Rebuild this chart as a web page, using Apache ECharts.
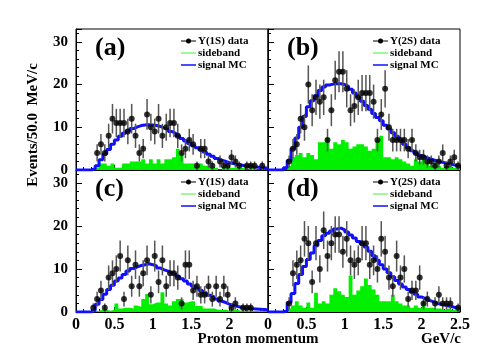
<!DOCTYPE html>
<html>
<head>
<meta charset="utf-8">
<script src="https://cdn.jsdelivr.net/npm/echarts@6/dist/echarts.min.js"></script>
<style>
  html, body { margin: 0; padding: 0; background: #fff; }
  #chart { width: 498px; height: 360px; }
</style>
</head>
<body>
<div id="chart"></div>
<script>
// 50 bins of 50 MeV/c from 0 to 2.5 GeV/c
var binWidth = 0.05;

// (a) Y(1S) data
var dataA = [0,0,0,0,0, 4,6,4,8,12, 11,11,11,9,12, 8,4,5,13,10, 9,12,8,10,11, 11,8,4,5,7, 6,1,5,5,2, 1,0,2,1,1, 3,2,1,0,1, 1,1,0,1,0];
var sideA = [0,0,0,0,0, 0.5,1.5,1.5,1.0,1.5, 0.5,0.5,1.5,1.5,2.0, 2.0,2.0,2.5,1.5,2.5, 1.5,2.5,1.5,2.5,2.5, 3.0,5.0,4.0,1.5,1.5, 1.5,1.0,1.5,1.0,1.0, 0.5,0.5,0,0.5,0.5, 0.5,0.5,0.5,0.5,0, 0.5,0.5,0,0,0];
var mcA = [0,0,0,0,0.3, 1.0,2.4,3.7,4.8,6.0, 7.0,7.9,8.6,9.2,9.7, 10.1,10.4,10.55,10.6,10.55, 10.4,10.2,9.8,9.5,9.0, 8.6,8.0,7.4,6.8,6.2, 5.7,5.2,4.7,4.2,3.7, 3.2,2.7,2.3,2.0,1.7, 1.5,1.3,1.15,1.0,0.9, 0.8,0.7,0.6,0.5,0.4];

// (b) Y(2S) data
var dataB = [0,0,0,0,0, 2,5,6,12,10, 20,14,17,16,17, 7,14,21,23,23, 19,14,15,17,18, 18,18,16,7,13, 19,10,7,7,7, 7,5,7,4,3, 3,2,2,1,2, 4,1,2,3,1];
var sideB = [0,0,0,0,0, 1.0,3.0,3.5,4.0,3.0, 4.0,3.5,2.5,6.5,6.5, 7.5,5.0,6.5,6.0,7.0, 6.5,5.0,5.5,6.0,6.0, 5.5,4.5,5.0,7.0,8.0, 3.0,3.0,2.5,3.0,2.5, 2.0,1.5,1.0,2.5,2.0, 2.5,1.5,1.0,1.5,1.0, 0.5,1.0,1.0,0.5,0.5];
var mcB = [0,0,0,0,0.5, 2.2,5.0,7.5,10.0,12.5, 14.8,16.2,17.4,18.6,19.4, 19.9,20.1,20.2,20.2,20.0, 19.6,18.9,18.0,17.1,16.1, 15.1,14.2,13.2,12.3,11.5, 10.5,9.6,8.7,7.9,7.0, 6.0,5.2,4.5,3.9,3.4, 3.0,2.7,2.4,2.1,1.9, 1.7,1.5,1.3,1.1,0.9];

// (c) Y(1S) data
var dataC = [0,0,0,0,1, 3,5,1,8,9, 10,13,3,12,6, 11,6,9,12,4, 13,7,12,6,9, 9,8,2,11,11, 5,6,4,4,6, 3,6,3,6,4, 1,2,0,1,1, 1,0,0,0,0];
var sideC = [0,0,0,0,0, 0.3,0.5,0.5,0.3,0.5, 2.0,0.8,1.0,1.0,0.8, 1.5,1.2,3.0,4.2,1.8, 2.2,2.2,4.6,2.0,1.5, 2.5,3.0,3.0,2.2,2.5, 2.5,1.4,1.4,0.8,0.8, 0.8,0.5,0.5,0.5,0.3, 0.5,0.5,0.3,0.3,0.3, 0.3,0,0.3,0,0];
var mcC = [0,0,0,0,0.4, 1.8,2.9,4.1,5.2,6.2, 7.2,7.9,8.7,9.5,10.1, 10.5,10.8,11.0,11.2,11.0, 10.7,10.2,9.8,9.5,9.1, 8.8,8.3,7.7,7.2,6.5, 6.0,5.5,5.0,4.5,3.9, 3.5,3.0,2.5,2.2,1.8, 1.5,1.3,1.1,0.9,0.8, 0.75,0.7,0.65,0.6,0.55];

// (d) Y(2S) data
var dataD = [0,0,0,0,0, 2,9,11,12,17, 16,7,16,10,19, 13,16,18,18,14, 17,12,11,12,16, 16,11,12,10,17, 14,8,6,13,8, 10,3,5,5,8, 2,3,0,2,4, 2,2,2,0,1];
var sideD = [0,0,0,0,0, 0.8,1.5,2.5,1.5,1.0, 2.2,1.0,4.5,2.0,2.5, 2.0,4.0,5.5,4.8,4.0, 3.5,8.5,4.0,5.0,6.0, 7.8,6.3,5.2,4.0,2.5, 2.5,2.5,4.0,2.5,2.0, 1.5,1.5,1.0,1.5,1.0, 2.2,1.0,1.0,0.8,0.8, 0.5,0.8,0.5,0.5,0.3];
var mcD = [0,0,0,0,0.3, 2.2,4.3,6.6,8.7,10.6, 12.2,13.7,15.4,16.6,17.7, 18.3,18.8,19.3,19.5,19.1, 18.6,17.9,17.2,16.4,15.8, 15.1,14.1,13.1,12.0,11.0, 10.0,9.1,8.2,7.3,6.5, 5.8,5.2,4.6,4.1,3.5, 3.1,2.7,2.4,2.1,1.8, 1.6,1.4,1.2,1.0,0.9];

var FONT = '"Liberation Serif", "Times New Roman", serif';
var GREEN = '#00f000';
var BLUE = '#1010ff';

var panels = [
  { tag: '(a)', dataName: 'Υ(1S) data', data: dataA, side: sideA, mc: mcA, left: 76,  top: 29,  height: 141, yLabels: true,  xLabels: false },
  { tag: '(b)', dataName: 'Υ(2S) data', data: dataB, side: sideB, mc: mcB, left: 268, top: 29,  height: 141, yLabels: false, xLabels: false },
  { tag: '(c)', dataName: 'Υ(1S) data', data: dataC, side: sideC, mc: mcC, left: 76,  top: 170, height: 142, yLabels: true,  xLabels: true, hideLast: true },
  { tag: '(d)', dataName: 'Υ(2S) data', data: dataD, side: sideD, mc: mcD, left: 268, top: 170, height: 142, yLabels: false, xLabels: true }
];

// histogram -> step points at bin edges
function histEdges(vals) {
  var out = [];
  for (var i = 0; i < vals.length; i++) out.push([i * binWidth, vals[i]]);
  out.push([vals.length * binWidth, vals[vals.length - 1]]);
  return out;
}
// data points at bin centres (empty bins are not drawn)
function binPoints(vals) {
  var out = [];
  vals.forEach(function (v, i) { if (v > 0) out.push([(i + 0.5) * binWidth, v]); });
  return out;
}

var grids = [], xAxes = [], yAxes = [], series = [], graphics = [];

panels.forEach(function (p, k) {
  grids.push({ left: p.left, top: p.top, width: 192, height: p.height, show: true, borderColor: '#000', borderWidth: 1, backgroundColor: 'transparent' });

  xAxes.push({
    type: 'value', gridIndex: k, min: 0, max: 2.5, interval: 0.5,
    axisLine: { show: true, lineStyle: { color: '#000', width: 1 } },
    axisTick: { show: true, inside: true, length: 5, lineStyle: { color: '#000' } },
    minorTick: { show: true, splitNumber: 5, length: 3, lineStyle: { color: '#000' } },
    splitLine: { show: false },
    axisLabel: {
      show: p.xLabels, margin: 5, color: '#000', fontFamily: FONT, fontWeight: 'bold', fontSize: 16,
      formatter: function (v) { return (p.hideLast && v === 2.5) ? '' : String(v); }
    }
  });

  yAxes.push({
    type: 'value', gridIndex: k, min: 0, max: 33, interval: 10,
    axisLine: { show: true, lineStyle: { color: '#000', width: 1 } },
    axisTick: { show: true, inside: true, length: 6, lineStyle: { color: '#000' } },
    minorTick: { show: true, splitNumber: 5, length: 3, lineStyle: { color: '#000' } },
    splitLine: { show: false },
    axisLabel: {
      show: p.yLabels, margin: 8, color: '#000', fontFamily: FONT, fontWeight: 'bold', fontSize: 15,
      formatter: function (v) { return v % 10 === 0 ? String(v) : ''; }
    }
  });

  series.push({
    name: 'sideband', type: 'line', step: 'end', xAxisIndex: k, yAxisIndex: k,
    data: histEdges(p.side), symbol: 'none', z: 1,
    lineStyle: { width: 0, color: GREEN }, areaStyle: { color: GREEN, opacity: 1 }
  });
  series.push({
    name: 'signal MC', type: 'line', step: 'end', xAxisIndex: k, yAxisIndex: k,
    data: histEdges(p.mc), symbol: 'none', z: 2,
    lineStyle: { width: 3, color: BLUE }
  });
  series.push({
    name: p.dataName + ' err', type: 'custom', xAxisIndex: k, yAxisIndex: k,
    data: binPoints(p.data), z: 3,
    renderItem: function (params, api) {
      var x = api.value(0), y = api.value(1), e = Math.sqrt(y);
      var a = api.coord([x, y - e]), b = api.coord([x, y + e]);
      return { type: 'line', shape: { x1: a[0], y1: a[1], x2: b[0], y2: b[1] },
               style: { stroke: '#555', lineWidth: 1.5 } };
    }
  });
  series.push({
    name: p.dataName, type: 'scatter', xAxisIndex: k, yAxisIndex: k,
    data: binPoints(p.data), symbol: 'circle', symbolSize: 6, z: 4,
    itemStyle: { color: '#000' }
  });

  // panel tag
  graphics.push({ type: 'text', x: p.left + 19, y: p.top + 19,
    style: { text: p.tag, font: 'bold 26px ' + FONT, fill: '#000', textAlign: 'left', verticalAlign: 'middle' } });

  // legend box
  var lx = p.left + 105, tx = p.left + 122;
  var rows = [p.top + 12, p.top + 24, p.top + 36];
  graphics.push({ type: 'line', shape: { x1: lx, y1: rows[0], x2: lx + 15, y2: rows[0] }, style: { stroke: '#000', lineWidth: 1 } });
  graphics.push({ type: 'circle', shape: { cx: lx + 7.5, cy: rows[0], r: 2.5 }, style: { fill: '#000' } });
  graphics.push({ type: 'line', shape: { x1: lx, y1: rows[1], x2: lx + 15, y2: rows[1] }, style: { stroke: '#7cf77c', lineWidth: 1.5 } });
  graphics.push({ type: 'line', shape: { x1: lx, y1: rows[2], x2: lx + 15, y2: rows[2] }, style: { stroke: BLUE, lineWidth: 1.5 } });
  [p.dataName, 'sideband', 'signal MC'].forEach(function (t, j) {
    graphics.push({ type: 'text', x: tx, y: rows[j],
      style: { text: t, font: 'bold 11px ' + FONT, fill: '#000', textAlign: 'left', verticalAlign: 'middle' } });
  });
});

// axis titles
graphics.push({ type: 'text', x: 33, y: 125, rotation: Math.PI / 2,
  style: { text: 'Events/50.0  MeV/c', font: 'bold 15px ' + FONT, fill: '#000', textAlign: 'center', verticalAlign: 'middle' } });
graphics.push({ type: 'text', x: 258, y: 339,
  style: { text: 'Proton momentum', font: 'bold 15px ' + FONT, fill: '#000', textAlign: 'center', verticalAlign: 'middle' } });
graphics.push({ type: 'text', x: 461, y: 339,
  style: { text: 'GeV/c', font: 'bold 15px ' + FONT, fill: '#000', textAlign: 'right', verticalAlign: 'middle' } });

var chart = echarts.init(document.getElementById('chart'), null, { renderer: 'canvas' });
chart.setOption({
  animation: false,
  backgroundColor: '#fff',
  grid: grids,
  xAxis: xAxes,
  yAxis: yAxes,
  series: series,
  graphic: graphics
});
</script>
</body>
</html>
